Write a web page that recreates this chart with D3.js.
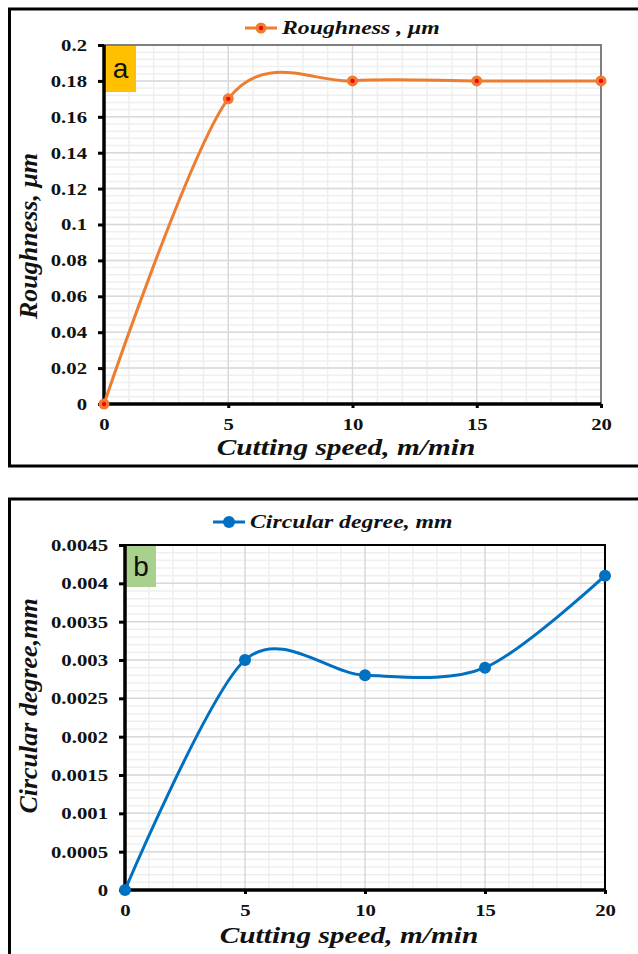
<!DOCTYPE html>
<html>
<head>
<meta charset="utf-8">
<script src="https://cdn.jsdelivr.net/npm/d3@7"></script>
<style>
  body { margin: 0; background: #fff; }
  svg { display: block; }
</style>
</head>
<body>
<script>
// data
const speed = [0, 5, 10, 15, 20]
const roughness = [0, 0.17, 0.18, 0.18, 0.18]
const circular = [0, 0.003, 0.0028, 0.0029, 0.0041]

const xTicks = [0, 5, 10, 15, 20]
const roughTicks = [0, 0.02, 0.04, 0.06, 0.08, 0.1, 0.12, 0.14, 0.16, 0.18, 0.2]
const roughTickLabels = ["0", "0.02", "0.04", "0.06", "0.08", "0.1", "0.12", "0.14", "0.16", "0.18", "0.2"]
const circTicks = [0, 0.0005, 0.001, 0.0015, 0.002, 0.0025, 0.003, 0.0035, 0.004, 0.0045]
const circTickLabels = ["0", "0.0005", "0.001", "0.0015", "0.002", "0.0025", "0.003", "0.0035", "0.004", "0.0045"]

const width = 638, height = 954
const serif = "Liberation Serif, Times New Roman, serif"
const widen = 1.22   // the scanned figure is stretched sideways

const svg = d3.select("body")
    .append("svg")
    .attr("width", width)
    .attr("height", height)

// stretch text horizontally, like the source image
function stretch(sel, k) {
    sel.each(function () {
        const w = this.getComputedTextLength()
        d3.select(this).attr("textLength", w * k).attr("lengthAdjust", "spacingAndGlyphs")
    })
}

function drawPanel(p) {
    const g = svg.append("g")

    // outer frame (runs off the right edge like the scan)
    g.append("path")
        .attr("d", p.frame)
        .attr("fill", "none")
        .attr("stroke", "#000")
        .attr("stroke-width", 3)

    const x = d3.scaleLinear().domain([0, 20]).range([p.left, p.right])
    const y = d3.scaleLinear().domain([0, p.yMax]).range([p.bottom, p.top])

    // minor grid
    g.append("g").selectAll("line")
        .data(d3.range(0, 21, 1).filter(d => d % 5 !== 0))
        .join("line")
        .attr("x1", d => x(d)).attr("x2", d => x(d))
        .attr("y1", p.top).attr("y2", p.bottom)
        .attr("stroke", "#efefef").attr("stroke-width", 1.5)
    g.append("g").selectAll("line")
        .data(d3.range(0, p.nMinor + 1).map(i => i * p.yMax / p.nMinor))
        .join("line")
        .attr("x1", p.left).attr("x2", p.right)
        .attr("y1", d => y(d)).attr("y2", d => y(d))
        .attr("stroke", "#efefef").attr("stroke-width", 1.5)

    // major grid
    g.append("g").selectAll("line")
        .data(xTicks)
        .join("line")
        .attr("x1", d => x(d)).attr("x2", d => x(d))
        .attr("y1", p.top).attr("y2", p.bottom)
        .attr("stroke", "#d9d9d9").attr("stroke-width", 1.5)
    g.append("g").selectAll("line")
        .data(p.yTicks)
        .join("line")
        .attr("x1", p.left).attr("x2", p.right)
        .attr("y1", d => y(d)).attr("y2", d => y(d))
        .attr("stroke", "#d9d9d9").attr("stroke-width", 1.5)

    // plot border top/right
    g.append("path")
        .attr("d", `M${p.left},${p.top}H${p.right}V${p.bottom}`)
        .attr("fill", "none")
        .attr("stroke", p.borderColor)
        .attr("stroke-width", 2)

    // label box
    g.append("rect")
        .attr("x", p.left + 1).attr("y", p.top + 1)
        .attr("width", p.boxW).attr("height", p.boxH)
        .attr("fill", p.boxColor)
    g.append("text")
        .attr("x", p.left + 1 + p.boxW / 2).attr("y", p.top + 1 + p.boxH / 2 + 9)
        .attr("text-anchor", "middle")
        .attr("font-family", "Liberation Sans, Arial, sans-serif")
        .attr("font-size", 28)
        .attr("fill", "#111")
        .text(p.letter)

    // axes
    const yAxis = d3.axisLeft(y).tickValues(p.yTicks)
        .tickFormat((d, i) => p.yLabels[i]).tickSize(6).tickPadding(11)
    const ya = g.append("g").attr("transform", `translate(${p.left},0)`).call(yAxis)
    const xAxis = d3.axisBottom(x).tickValues(xTicks).tickSize(4).tickPadding(10)
    const xa = g.append("g").attr("transform", `translate(0,${p.bottom})`).call(xAxis)
    for (const a of [ya, xa]) {
        a.attr("font-family", serif).attr("font-size", 17).attr("font-weight", "bold")
        a.select(".domain").attr("stroke", "#000").attr("stroke-width", 3.5)
        a.selectAll(".tick line").attr("stroke", "#000").attr("stroke-width", 3)
        a.selectAll(".tick text").attr("fill", "#111").call(stretch, widen)
    }
    ya.select(".domain").attr("d", `M0,${p.top}V${p.bottom}`)
    xa.select(".domain").attr("d", `M${p.left},0H${p.right}`)

    // line
    const pts = speed.map((s, i) => [s, p.values[i]])
    g.append("path")
        .datum(pts)
        .attr("fill", "none")
        .attr("stroke", p.color)
        .attr("stroke-width", 3)
        .attr("d", d3.line().x(d => x(d[0])).y(d => y(d[1])).curve(d3.curveCardinal.tension(0.1)))

    g.append("g").selectAll("circle")
        .data(pts)
        .join("circle")
        .attr("cx", d => x(d[0])).attr("cy", d => y(d[1]))
        .attr("r", p.markR)
        .attr("fill", p.color)
    if (p.dot) {
        g.append("g").selectAll("circle")
            .data(pts)
            .join("circle")
            .attr("cx", d => x(d[0])).attr("cy", d => y(d[1]))
            .attr("r", 2.2)
            .attr("fill", p.dot)
    }

    // legend
    const lg = g.append("g").attr("transform", `translate(${p.legX},${p.legY})`)
    lg.append("line").attr("x1", 0).attr("x2", 32).attr("stroke", p.color).attr("stroke-width", 3)
    lg.append("circle").attr("cx", 16).attr("r", p.markR).attr("fill", p.color)
    if (p.dot) lg.append("circle").attr("cx", 16).attr("r", 2.2).attr("fill", p.dot)
    lg.append("text")
        .attr("x", 37).attr("y", 6)
        .attr("font-family", serif)
        .attr("font-weight", "bold").attr("font-style", "italic")
        .attr("font-size", 19)
        .attr("fill", "#111")
        .text(p.legend)
        .call(stretch, 1.25)

    // titles
    g.append("text")
        .attr("x", p.xTitleX).attr("y", p.xTitleY)
        .attr("text-anchor", "middle")
        .attr("font-family", serif)
        .attr("font-weight", "bold").attr("font-style", "italic")
        .attr("font-size", 23.5)
        .attr("fill", "#111")
        .text("Cutting speed, m/min")
        .call(stretch, 1.25)
    g.append("text")
        .attr("transform", `translate(${p.yTitleX},${p.yTitleY}) rotate(-90)`)
        .attr("text-anchor", "middle")
        .attr("font-family", serif)
        .attr("font-weight", "bold").attr("font-style", "italic")
        .attr("font-size", 26)
        .attr("fill", "#111")
        .text(p.yTitle)
}

drawPanel({
    frame: "M645,9H9.5V466H645",
    left: 104, right: 601, top: 45, bottom: 404,
    yMax: 0.2, nMinor: 50, yTicks: roughTicks, yLabels: roughTickLabels,
    values: roughness, color: "#ED7D31", dot: "#FF0000", markR: 5.5,
    borderColor: "#7f7f7f",
    boxColor: "#FFC000", boxW: 31, boxH: 46, letter: "a",
    legX: 245, legY: 28, legend: "Roughness , μm",
    xTitleX: 346, xTitleY: 455, yTitleX: 37, yTitleY: 236, yTitle: "Roughness, μm"
})

drawPanel({
    frame: "M645,499H9.5V960",
    left: 125, right: 605, top: 545, bottom: 890,
    yMax: 0.0045, nMinor: 45, yTicks: circTicks, yLabels: circTickLabels,
    values: circular, color: "#0070C0", dot: null, markR: 6,
    borderColor: "#000",
    boxColor: "#A9D18E", boxW: 30, boxH: 41, letter: "b",
    legX: 213, legY: 522, legend: "Circular degree, mm",
    xTitleX: 349, xTitleY: 943, yTitleX: 37, yTitleY: 706, yTitle: "Circular degree,mm"
})
</script>
</body>
</html>
